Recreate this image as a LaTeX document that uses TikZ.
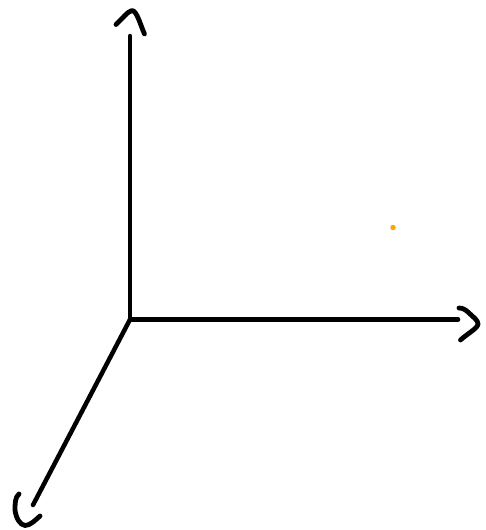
\documentclass[tikz,border=0pt]{standalone}
\tikzset{
  axisline/.style={line width=4.5pt,black,line cap=round,line join=round},
  headline/.style={line width=4.8pt,black,line cap=round,line join=round}
}
\definecolor{dotorange}{RGB}{255,165,0}
\begin{document}
\begin{tikzpicture}[x=1pt,y=-1pt]
\useasboundingbox (0,0) rectangle (485,530);
\coordinate (origin) at (130,319.5);
\coordinate (top) at (130,36);
\coordinate (right) at (458,319.5);
\coordinate (left) at (33,505);
\draw[axisline] (origin) -- (top);
\draw[axisline] (origin) -- (right);
\draw[axisline] (origin) -- (left);
\draw[headline] (116,24.5) .. controls (122,19) and (128,11) .. (132,10.5) .. controls (137,11) and (140,24) .. (144.5,34);
\draw[headline] (459,308) .. controls (463,308) and (466,310) .. (469,313) .. controls (473,317) and (478,320) .. (478,324) .. controls (478,328) and (467,334) .. (460.5,340);
\draw[headline] (19,494) .. controls (15,497) and (15,504) .. (15,510) .. controls (16,518) and (20,525) .. (25,525.5) .. controls (30,525.5) and (35,520.5) .. (40,516);
\node[circle,fill=dotorange,inner sep=0pt,minimum size=5.5pt] (dot) at (393,227.5) {};
\end{tikzpicture}
\end{document}
